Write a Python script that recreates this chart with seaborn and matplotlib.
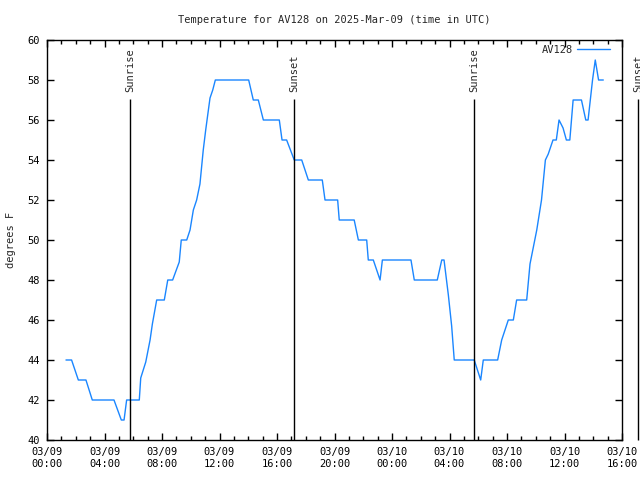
import matplotlib
matplotlib.use("Agg")
import matplotlib.pyplot as plt
import matplotlib.dates as mdates
import seaborn as sns
import pandas as pd

# hours after 2025-03-09 00:00 UTC
hours = [1.32, 1.71, 2.18, 2.71, 3.15, 4.66, 5.17, 5.36, 5.54, 6.42,
         6.52, 6.87, 7.17, 7.33, 7.63, 8.16, 8.40, 8.74, 9.20, 9.34,
         9.72, 9.95, 10.18, 10.41, 10.64, 10.87, 11.04, 11.18, 11.34, 11.53,
         11.71, 14.03, 14.35, 14.70, 15.05, 16.16, 16.35, 16.67, 17.20, 17.72,
         18.18, 19.15, 19.34, 20.22, 20.33, 21.37, 21.66, 22.24, 22.35, 22.70,
         23.17, 23.33, 25.32, 25.55, 27.15, 27.46, 27.62, 27.92, 28.15, 28.33,
         29.72, 30.17, 30.35, 31.35, 31.63, 32.09, 32.44, 32.67, 33.37, 33.60,
         34.07, 34.40, 34.67, 34.87, 35.20, 35.43, 35.62, 35.90, 36.13, 36.37,
         36.60, 37.18, 37.48, 37.64, 37.95, 38.14, 38.37, 38.70]
temps = [44, 44, 43, 43, 42, 42, 41, 41, 42, 42,
         43.1, 43.9, 45, 45.8, 47, 47, 48, 48, 48.9, 50,
         50, 50.5, 51.5, 52, 52.8, 54.5, 55.5, 56.25, 57.1, 57.5,
         58, 58, 57, 57, 56, 56, 55, 55, 54, 54,
         53, 53, 52, 52, 51, 51, 50, 50, 49, 49,
         48, 49, 49, 48, 48, 49, 49, 47.25, 45.7, 44,
         44, 43, 44, 44, 45, 46, 46, 47, 47, 48.8,
         50.5, 52, 54, 54.3, 55, 55, 56, 55.6, 55, 55,
         57, 57, 56, 56, 58, 59, 58, 58]

sun_labels = ["Sunrise", "Sunset", "Sunrise", "Sunset"]
sun_times = ["2025-03-09 05:46", "2025-03-09 17:11", "2025-03-10 05:42", "2025-03-10 17:07"]
sun_line_top = 57.05

start = pd.Timestamp("2025-03-09 00:00")
df = pd.DataFrame({"time": start + pd.to_timedelta(hours, unit="h"), "temp": temps})

sns.set_style("ticks")
plt.rcParams["font.family"] = ["DejaVu Sans Mono"]
plt.rcParams["font.size"] = 7.5

fig = plt.figure(figsize=(6.4, 4.8), dpi=100)
ax = fig.add_axes([47/640, 40/480, (622-47)/640, 400/480])

sns.lineplot(data=df, x="time", y="temp", ax=ax, color="#1a86ff", linewidth=1.0, label="AV128")

for lab, t in zip(sun_labels, sun_times):
    tt = mdates.date2num(pd.Timestamp(t))
    ax.vlines(tt, 40, sun_line_top, colors="black", linewidth=1.0, clip_on=False)
    ax.annotate(lab, xy=(tt, sun_line_top), xytext=(0, 5), textcoords="offset points",
                rotation=90, ha="center", va="bottom", annotation_clip=False)

ax.set_xlim(pd.Timestamp("2025-03-09 00:00"), pd.Timestamp("2025-03-10 16:00"))
ax.set_ylim(40, 60)
ax.set_yticks(range(40, 61, 2))
ax.xaxis.set_major_locator(mdates.HourLocator(byhour=range(0, 24, 4)))
ax.xaxis.set_minor_locator(mdates.HourLocator(interval=1))
ax.xaxis.set_major_formatter(mdates.DateFormatter("%m/%d\n%H:%M"))

ax.tick_params(which="both", direction="in", top=True, right=True, colors="black", pad=5)
ax.tick_params(which="major", length=5, width=1)
ax.tick_params(which="minor", length=3, width=1)
for s in ax.spines.values():
    s.set_visible(True)
    s.set_linewidth(1)
    s.set_color("black")

ax.set_xlabel("")
ax.set_ylabel("degrees F")
ax.yaxis.set_label_coords(-0.0545, 0.5)
ax.set_title("Temperature for AV128 on 2025-Mar-09 (time in UTC)", pad=12, fontsize=7.5)

ax.legend(loc="upper right", frameon=False, markerfirst=False, handlelength=3.15,
          handletextpad=0.35, borderaxespad=0.3, fontsize=7.5,
          bbox_to_anchor=(1 - 5/575, 1 + 2.5/400))

fig.savefig("out.png", dpi=100)
